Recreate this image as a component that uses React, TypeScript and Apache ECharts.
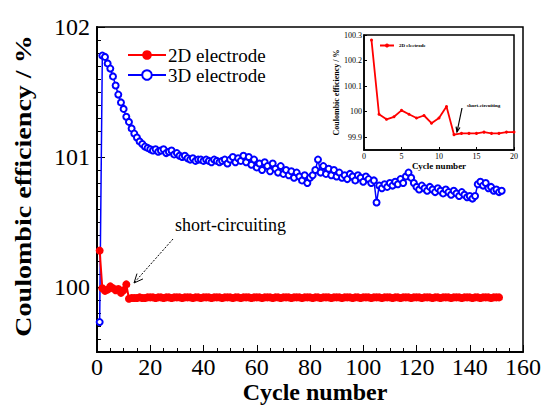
import React, { useEffect, useRef } from "react";
import * as echarts from "echarts";

const SERIF = "Liberation Serif, serif";

// Coulombic efficiency (%) per cycle, starting at cycle 1
const eff2D = [
  100.28, 99.99, 99.97, 99.98, 100.005, 99.99, 99.975, 99.985, 99.955, 99.975,
  100.02, 99.91, 99.915, 99.915, 99.915, 99.92, 99.915, 99.915, 99.92, 99.92,
  99.92, 99.915, 99.92, 99.92, 99.915, 99.92, 99.92, 99.915, 99.92, 99.92,
  99.92, 99.915, 99.92, 99.92, 99.92, 99.915, 99.92, 99.92, 99.915, 99.92,
  99.92, 99.92, 99.915, 99.92, 99.92, 99.92, 99.915, 99.92, 99.92, 99.92,
  99.915, 99.92, 99.92, 99.915, 99.92, 99.92, 99.92, 99.915, 99.92, 99.92,
  99.92, 99.915, 99.92, 99.92, 99.92, 99.915, 99.92, 99.92, 99.915, 99.92,
  99.92, 99.92, 99.915, 99.92, 99.92, 99.92, 99.915, 99.92, 99.92, 99.92,
  99.915, 99.92, 99.92, 99.915, 99.92, 99.92, 99.92, 99.915, 99.92, 99.92,
  99.92, 99.915, 99.92, 99.92, 99.92, 99.915, 99.92, 99.92, 99.915, 99.92,
  99.92, 99.92, 99.915, 99.92, 99.92, 99.92, 99.915, 99.92, 99.92, 99.92,
  99.915, 99.92, 99.92, 99.915, 99.92, 99.92, 99.92, 99.915, 99.92, 99.92,
  99.92, 99.915, 99.92, 99.92, 99.92, 99.915, 99.92, 99.92, 99.915, 99.92,
  99.92, 99.92, 99.915, 99.92, 99.92, 99.92, 99.915, 99.92, 99.92, 99.92,
  99.915, 99.92, 99.92, 99.915, 99.92, 99.92, 99.92, 99.915, 99.92, 99.92,
  99.92,
];

const eff3D = [
  99.73, 101.78, 101.77, 101.72, 101.68, 101.62, 101.55, 101.48, 101.42, 101.37,
  101.31, 101.27, 101.22, 101.18, 101.15, 101.12, 101.1, 101.08, 101.07, 101.06,
  101.05, 101.06, 101.04, 101.05, 101.06, 101.03, 101.04, 101.05, 101.02, 101.03,
  101.01, 101.0, 101.01, 100.99, 100.98, 100.99, 100.97, 100.98, 100.98, 100.97,
  100.98, 100.97, 100.96, 100.98, 100.97, 100.96, 100.97, 100.98, 100.95, 100.98,
  101.0, 100.96, 100.99, 100.97, 101.01, 100.96, 101.0, 100.94, 100.98, 100.92,
  100.95, 100.9, 100.96, 100.93, 100.89, 100.95, 100.91, 100.88, 100.93, 100.87,
  100.9, 100.86, 100.89, 100.84, 100.88, 100.85, 100.82, 100.86, 100.8, 100.84,
  100.86, 100.9, 100.98, 100.88, 100.93, 100.87, 100.91, 100.86, 100.9, 100.85,
  100.88, 100.84, 100.86, 100.83, 100.87, 100.85, 100.82, 100.86, 100.84, 100.81,
  100.85, 100.83, 100.8, 100.82, 100.65, 100.78, 100.76, 100.79, 100.77, 100.8,
  100.78, 100.81, 100.79, 100.83, 100.8, 100.85, 100.88, 100.84, 100.8, 100.77,
  100.75, 100.78, 100.76, 100.74, 100.77, 100.75, 100.73, 100.76, 100.74, 100.72,
  100.75, 100.73, 100.71, 100.74, 100.72, 100.7, 100.73, 100.71, 100.69, 100.7,
  100.68, 100.7, 100.79, 100.81, 100.78, 100.8, 100.76, 100.77, 100.74, 100.75,
  100.73, 100.74,
];

const INSET_CYCLES = 20;

const mainXTicks = [0, 160, 20];
const mainYLabels = [100, 101, 102];
const insetYLabels = [99.9, 100, 100.1, 100.2, 100.3];

const toPairs = (arr: number[]) => arr.map((v, i) => [i + 1, v]);

export default function App() {
  const ref = useRef<HTMLDivElement>(null);
  useEffect(() => {
    document.body.style.margin = "0";
    document.body.style.overflow = "hidden";
    const chart = echarts.init(ref.current!, null, { renderer: "svg" });

    const arrow = (x1: number, y1: number, x2: number, y2: number, head: number, half: number) => {
      const dx = x2 - x1, dy = y2 - y1;
      const len = Math.hypot(dx, dy);
      const ux = dx / len, uy = dy / len;
      const bx = x2 - head * ux, by = y2 - head * uy;
      const px = -uy, py = ux;
      return [
        [bx + half * px, by + half * py],
        [x2, y2],
        [bx - half * px, by - half * py],
      ];
    };

    const tickStyle = { color: "#000", width: 1 };
    const txt = (size: number, bold = false) => ({
      fontFamily: SERIF,
      fontSize: size,
      fontWeight: bold ? "bold" : "normal",
      fontStyle: "normal",
      color: "#000",
    });

    chart.setOption({
      animation: false,
      backgroundColor: "#fff",
      textStyle: { fontFamily: SERIF, fontWeight: "normal" },
      grid: [
        { left: 97, right: 21, top: 27, bottom: 55, show: true, borderColor: "#000", borderWidth: 1.5, backgroundColor: "transparent", outerBoundsMode: "none", containLabel: false },
        { left: 364, right: 30, top: 35, bottom: 257, show: true, borderColor: "#000", borderWidth: 1.5, backgroundColor: "#fff", z: 5, outerBoundsMode: "none", containLabel: false },
      ],
      legend: [
        {
          data: ["2D electrode", "3D electrode"],
          left: 127,
          top: 45,
          padding: 0,
          orient: "vertical",
          itemWidth: 38,
          itemHeight: 12,
          itemGap: 0,
          selectedMode: false,
          textStyle: { ...txt(19), lineHeight: 20, padding: [0, 0, 0, -3] },
        },
        {
          data: ["2D electrode"],
          left: 379,
          top: 43,
          padding: 0,
          orient: "vertical",
          itemWidth: 14,
          itemHeight: 5,
          selectedMode: false,
          z: 10,
          textStyle: txt(5, true),
        },
      ],
      xAxis: [
        {
          type: "value",
          gridIndex: 0,
          min: mainXTicks[0],
          max: mainXTicks[1],
          interval: mainXTicks[2],
          axisLine: { lineStyle: { color: "#000", width: 2 } },
          axisTick: { inside: true, length: 7, lineStyle: tickStyle },
          minorTick: { show: true, splitNumber: 4, length: 4, lineStyle: tickStyle },
          axisLabel: { ...txt(24), margin: 3 },
          splitLine: { show: false },
        },
        {
          type: "value",
          gridIndex: 1,
          min: 0,
          max: 20,
          interval: 5,
          name: "Cycle number",
          nameLocation: "middle",
          nameGap: 11,
          nameTextStyle: txt(9, true),
          axisLine: { lineStyle: { color: "#000", width: 1.5 } },
          axisTick: { inside: true, length: 3, lineStyle: tickStyle },
          axisLabel: { ...txt(8), margin: 2 },
          splitLine: { show: false },
          z: 6,
        },
      ],
      yAxis: [
        {
          type: "value",
          gridIndex: 0,
          min: 99.5,
          max: 102,
          interval: 0.1,
          axisLine: { lineStyle: { color: "#000", width: 2 } },
          axisTick: { inside: true, length: 4, lineStyle: tickStyle },
          axisLabel: {
            ...txt(24),
            margin: 7,
            customValues: mainYLabels,
            formatter: (v: number) => (Math.abs(v - Math.round(v)) < 1e-6 ? String(Math.round(v)) : ""),
          },
          splitLine: { show: false },
        },
        {
          type: "value",
          gridIndex: 0,
          min: 99.5,
          max: 102,
          position: "left",
          axisLine: { show: false },
          axisTick: { inside: true, length: 8, lineStyle: tickStyle, customValues: mainYLabels },
          axisLabel: { show: false },
          splitLine: { show: false },
        },
        {
          type: "value",
          gridIndex: 1,
          min: 99.85,
          max: 100.3,
          name: "Coulombic efficiency / %",
          nameLocation: "middle",
          nameGap: 21,
          nameRotate: 90,
          nameTextStyle: txt(8, true),
          axisLine: { lineStyle: { color: "#000", width: 1.5 } },
          axisTick: { inside: true, length: 3, lineStyle: tickStyle, customValues: insetYLabels },
          axisLabel: { ...txt(8), margin: 2, customValues: insetYLabels },
          splitLine: { show: false },
          z: 6,
        },
      ],
      series: [
        {
          name: "2D electrode",
          type: "line",
          xAxisIndex: 0,
          yAxisIndex: 0,
          data: toPairs(eff2D),
          symbol: "circle",
          symbolSize: 8,
          itemStyle: { color: "#ff0000" },
          lineStyle: { color: "#ff0000", width: 2 },
          z: 3,
        },
        {
          name: "3D electrode",
          type: "line",
          xAxisIndex: 0,
          yAxisIndex: 0,
          data: toPairs(eff3D),
          symbol: "emptyCircle",
          symbolSize: 6,
          itemStyle: { color: "#0000ff", borderWidth: 1.5 },
          lineStyle: { color: "#0000ff", width: 1.5 },
          z: 2,
        },
        {
          name: "2D electrode",
          type: "line",
          xAxisIndex: 1,
          yAxisIndex: 2,
          data: toPairs(eff2D.slice(0, INSET_CYCLES)),
          symbol: "circle",
          symbolSize: 3,
          itemStyle: { color: "#ff0000" },
          lineStyle: { color: "#ff0000", width: 1.8 },
          z: 7,
        },
      ],
      graphic: [
        {
          type: "text",
          x: 23,
          y: 186,
          rotation: Math.PI / 2,
          scaleX: 1.22,
          style: {
            text: "Coulombic efficiency / %",
            font: `bold 23px ${SERIF}`,
            fill: "#000",
            align: "center",
            verticalAlign: "middle",
          },
        },
        {
          type: "text",
          x: 315,
          y: 392,
          style: {
            text: "Cycle number",
            font: `bold 24px ${SERIF}`,
            fill: "#000",
            align: "center",
            verticalAlign: "middle",
          },
        },
        {
          type: "text",
          left: 175,
          top: 216,
          style: { text: "short-circuiting", font: `18px ${SERIF}`, fill: "#000" },
        },
        {
          type: "line",
          shape: { x1: 173, y1: 239, x2: 134, y2: 283 },
          style: { stroke: "#000", lineWidth: 1, lineDash: [2, 1.5] },
        },
        {
          type: "polyline",
          shape: { points: arrow(173, 239, 134, 283, 9, 4) },
          style: { stroke: "#000", lineWidth: 1, fill: null },
        },
        {
          type: "text",
          left: 467,
          top: 103,
          z: 20,
          style: { text: "short-circuiting", font: `bold 5px ${SERIF}`, fill: "#000" },
        },
        {
          type: "line",
          z: 20,
          shape: { x1: 462, y1: 108, x2: 457, y2: 132 },
          style: { stroke: "#000", lineWidth: 1.2 },
        },
        {
          type: "polyline",
          z: 20,
          shape: { points: arrow(462, 108, 457, 132, 5, 2) },
          style: { stroke: "#000", lineWidth: 1.2, fill: null },
        },
      ],
    });
    return () => chart.dispose();
  }, []);
  return <div ref={ref} style={{ width: 544, height: 407 }} />;
}
